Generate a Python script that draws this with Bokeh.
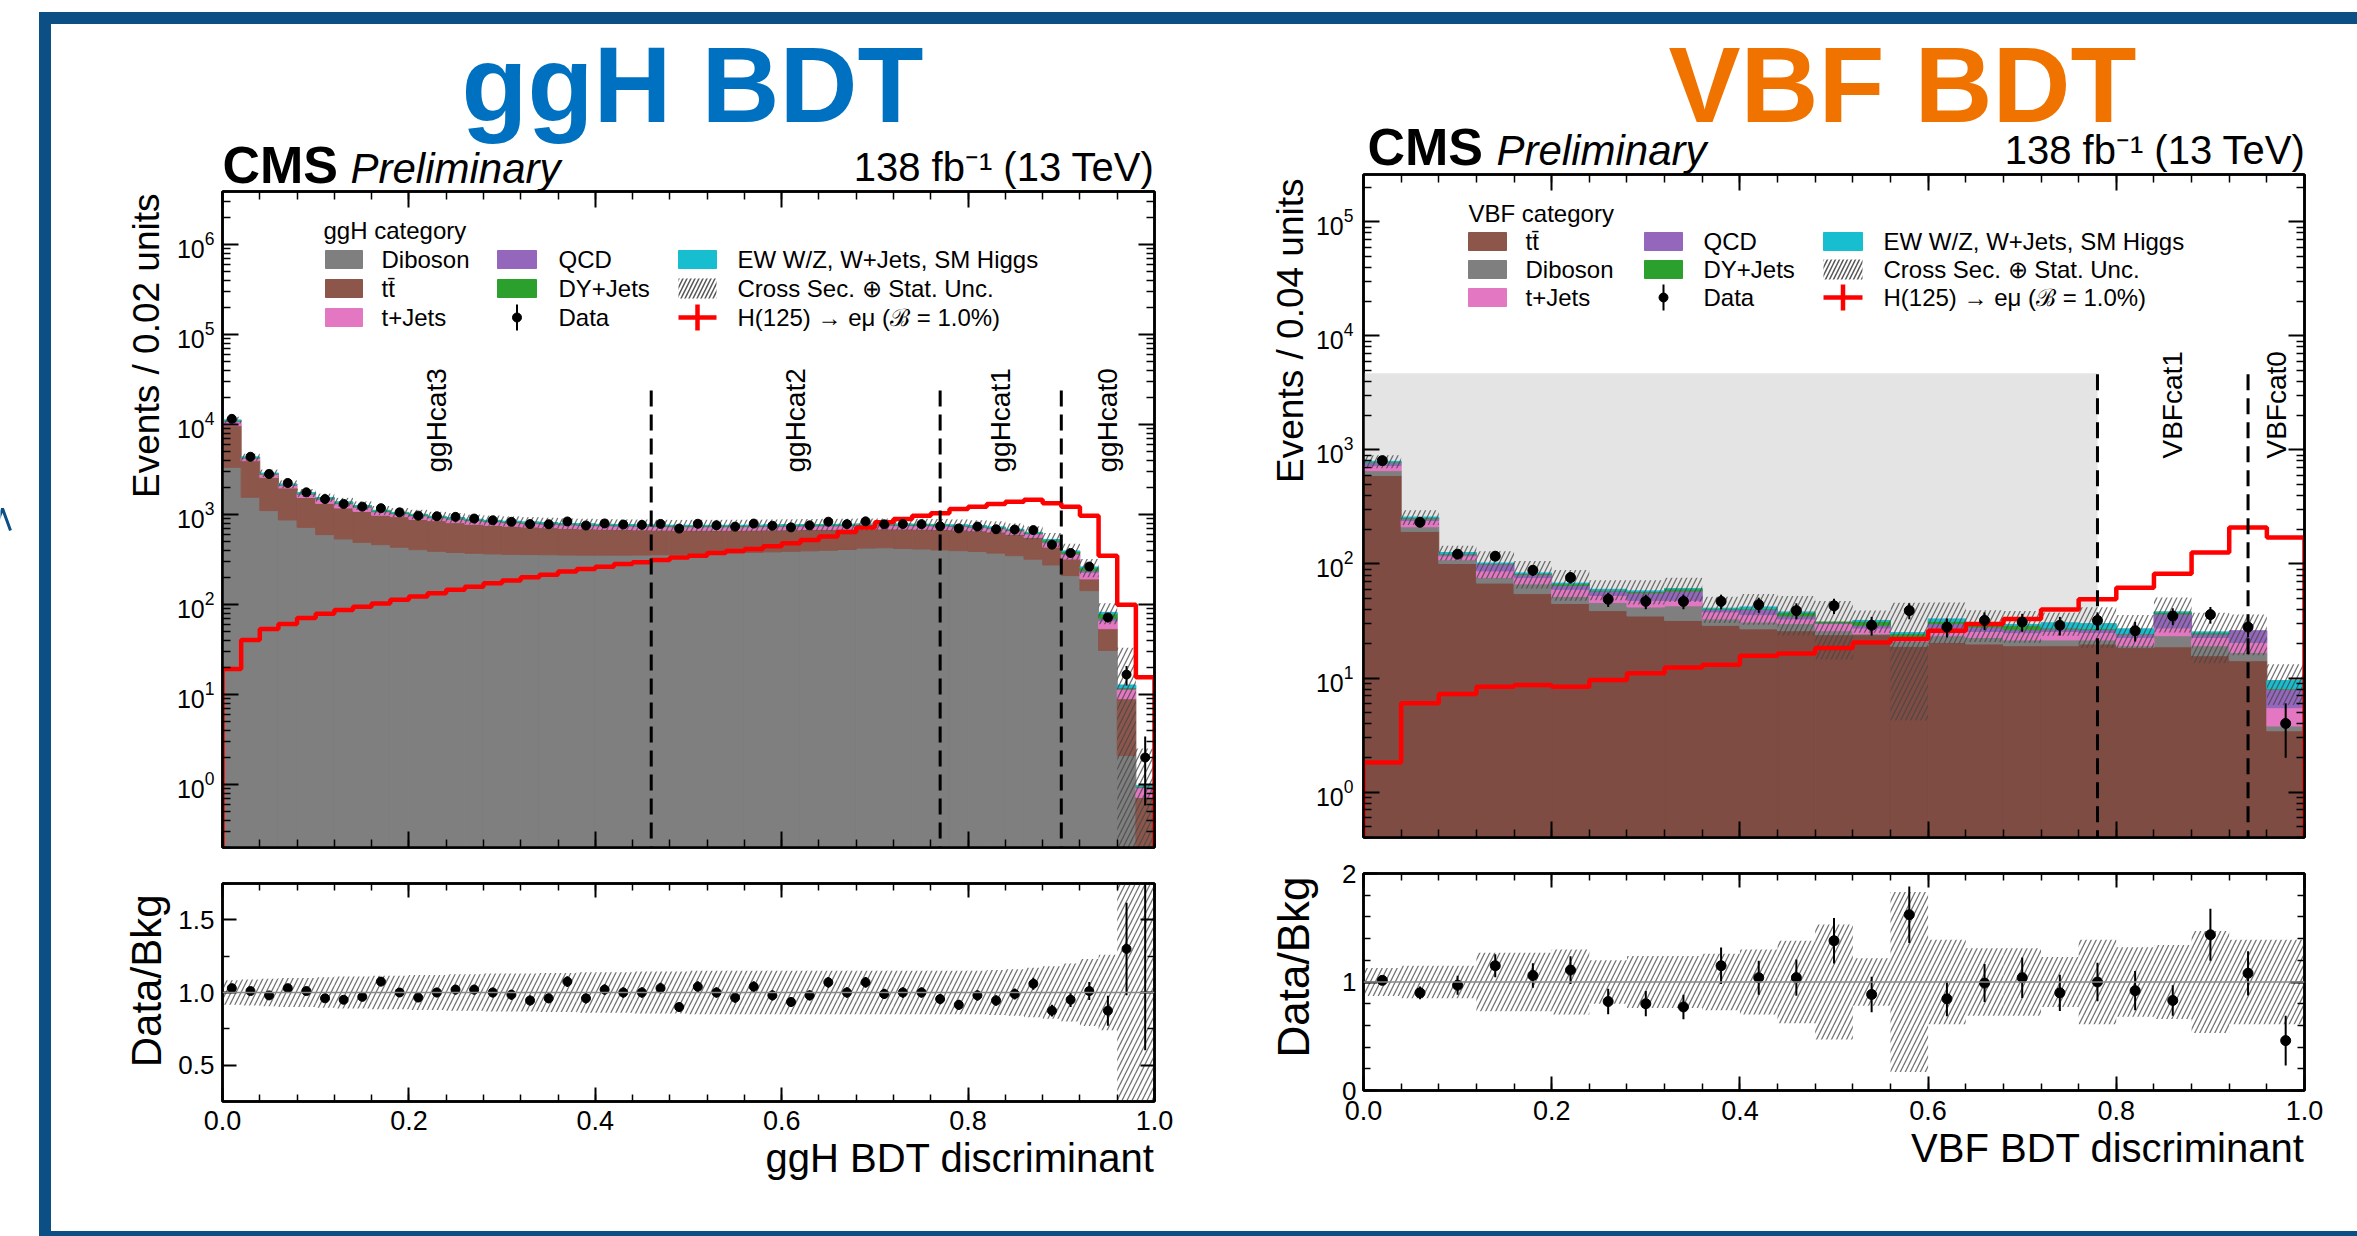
import math
import numpy as np
from bokeh.plotting import figure
from bokeh.models import (Range1d, LogAxis, LinearAxis, FixedTicker, Label, Span, Div, Spacer,
                          PrintfTickFormatter, ColumnDataSource, GridBox)
from bokeh.layouts import row, column
from bokeh.embed import file_html
from bokeh.resources import INLINE

# ---------------------------------------------------------------- data: ggH BDT (50 bins of 0.02)
ggh_edges = np.linspace(0.0, 1.0, 51)
ggh_diboson = [3360, 1560, 1110, 873, 723, 600, 537, 492, 464, 434,
               408, 391, 380, 372, 366, 362, 360, 358, 356, 355,
               355, 355, 356, 358, 362, 366, 370, 375, 381, 386,
               391, 396, 402, 410, 425, 428, 420, 415, 405, 398,
               390, 373, 350, 320, 276, 210, 143, 31, 2.1, 0.0]
ggh_ttbar = [6390, 2420, 1490, 1107, 827, 736, 650, 596, 522, 516,
             479, 467, 435, 411, 395, 382, 370, 359, 348, 340,
             333, 328, 322, 316, 309, 305, 301, 296, 292, 290,
             288, 287, 284, 280, 268, 265, 273, 275, 280, 278,
             272, 268, 257, 239, 160, 111, 50, 23, 6.9, 0.72]
ggh_tjets = [1050, 260, 195, 140, 135, 145, 132, 118, 88, 72,
             80, 66, 72, 69, 67, 66, 65, 64, 62, 62,
             61, 61, 60, 60, 60, 59, 59, 60, 60, 60,
             60, 61, 61, 61, 61, 61, 61, 61, 61, 60,
             59, 57, 54, 50, 50, 40, 36, 12, 2.4, 0.2]
ggh_qcd = [160, 40, 30, 22, 20, 22, 20, 18, 14, 12,
           13, 11, 12, 13, 13, 13, 12, 12, 12, 12,
           12, 12, 12, 11, 11, 11, 11, 11, 11, 12,
           12, 12, 12, 12, 12, 12, 12, 12, 12, 12,
           11, 11, 10, 10, 12, 10, 9, 4, 0.3, 0.02]
ggh_dy = [200, 55, 45, 30, 32, 33, 33, 29, 22, 18,
          21, 17, 18, 16, 16, 15, 15, 15, 14, 14,
          14, 14, 14, 14, 14, 14, 14, 14, 14, 14,
          14, 14, 14, 14, 14, 14, 14, 14, 14, 14,
          14, 13, 12, 11, 24, 18, 18, 9, 0.3, 0.02]
ggh_ew = [100, 25, 20, 13, 13, 14, 13, 12, 10, 8,
          9, 8, 8, 8, 8, 8, 7, 7, 7, 7,
          7, 7, 7, 7, 7, 7, 7, 7, 7, 7,
          7, 7, 7, 7, 7, 7, 7, 7, 7, 7,
          7, 7, 6, 6, 8, 6, 6, 3, 0.8, 0.01]
ggh_data = [11600, 4400, 2830, 2250, 1770, 1490, 1315, 1227, 1180, 1060,
            975, 960, 945, 905, 865, 832, 785, 782, 840, 758,
            798, 776, 770, 789, 700, 792, 762, 736, 796, 753,
            722, 760, 835, 784, 842, 780, 787, 784, 743, 703,
            737, 688, 683, 673, 464, 375, 265, 72, 16.7, 2.0]
ggh_ratio = [1.03, 1.01, 0.98, 1.03, 1.01, 0.96, 0.95, 0.97, 1.075, 1.0,
             0.965, 1.0, 1.02, 1.02, 1.0, 0.985, 0.945, 0.96, 1.075, 0.96,
             1.02, 1.0, 1.0, 1.03, 0.90, 1.04, 1.0, 0.965, 1.04, 0.98,
             0.935, 0.98, 1.07, 1.0, 1.07, 0.99, 1.0, 1.0, 0.955, 0.915,
             0.98, 0.945, 0.99, 1.06, 0.875, 0.95, 1.01, 0.875, 1.30, 2.06]
ggh_unc = [0.085, 0.09, 0.095, 0.10, 0.10, 0.105, 0.11, 0.11, 0.115, 0.115,
           0.12, 0.12, 0.125, 0.125, 0.13, 0.13, 0.13, 0.135, 0.135, 0.14,
           0.14, 0.14, 0.145, 0.145, 0.145, 0.15, 0.15, 0.15, 0.15, 0.15,
           0.15, 0.15, 0.15, 0.15, 0.15, 0.15, 0.15, 0.15, 0.15, 0.15,
           0.15, 0.155, 0.16, 0.17, 0.18, 0.20, 0.23, 0.26, 1.6, 1.6]
ggh_signal = [19.3, 40.5, 53.7, 61, 71, 79, 87, 95, 103, 113,
              123, 134, 146, 158, 173, 185, 201, 215, 233, 249,
              264, 283, 295, 314, 335, 350, 375, 395, 416, 445,
              480, 523, 570, 640, 720, 822, 895, 975, 1035, 1157,
              1227, 1315, 1394, 1468, 1336, 1227, 975, 350, 100, 15.6]
ggh_cat_edges = [0.0, 0.46, 0.77, 0.90, 1.0]
ggh_cat_names = ["ggHcat3", "ggHcat2", "ggHcat1", "ggHcat0"]
ggh_cat_line_top = 2.4e4

# ---------------------------------------------------------------- data: VBF BDT (25 bins of 0.04)
vbf_edges = np.linspace(0.0, 1.0, 26)
vbf_ttbar = [596, 193, 101, 68, 55, 45, 39, 35, 32, 29, 27, 26, 24,
             24, 19, 20.5, 19.9, 19.2, 19.2, 19.9, 18.5, 18.8, 15.7, 14.2, 3.45]
vbf_diboson = [62, 19, 8, 8, 12, 7, 7, 7, 11, 4, 4, 4, 2,
               0.5, 2, 3, 2.8, 2.4, 2.4, 1.7, 0.7, 4.7, 3.5, 2.6, 0.35]
vbf_tjets = [72, 28, 9, 11, 9, 8, 7, 6, 5, 5, 5, 3, 4,
             3, 1.5, 3, 2.9, 3.4, 4, 3.5, 3.5, 4, 3.5, 3.7, 1.7]
vbf_qcd = [46, 10, 4, 13, 5, 5, 5, 8, 10, 2, 4, 2, 0.5,
           1.5, 0.5, 3.5, 2.4, 1.5, 1.4, 1.5, 1.6, 9, 1.6, 5.5, 2.5]
vbf_dy = [10, 5, 2, 1, 1.5, 2, 1, 1.5, 2.5, 0.5, 0.5, 2.5, 0.5,
          2.5, 1.5, 1.5, 1.5, 2.5, 0.5, 0.5, 0.3, 1.2, 0.6, 0.0, 0.1]
vbf_ew = [8, 3, 2, 1, 1, 1, 1, 0.5, 0.5, 0.5, 1.5, 0.5, 0.0,
          0.5, 0.5, 1.5, 0.5, 0.5, 3, 2.9, 2.4, 0.3, 0.5, 0.0, 1.4]
vbf_data = [806, 232, 122, 117, 88, 76, 49, 47, 47, 47, 44, 39, 43,
            29, 39, 28, 32, 31, 29, 32, 26, 35, 36, 28, 4]
vbf_ratio = [1.015, 0.90, 0.97, 1.15, 1.06, 1.11, 0.82, 0.80, 0.77, 1.15, 1.04, 1.04, 1.38,
             0.885, 1.62, 0.845, 0.99, 1.04, 0.90, 1.0, 0.92, 0.83, 1.435, 1.08, 0.46]
vbf_unc = [0.13, 0.15, 0.15, 0.27, 0.27, 0.30, 0.20, 0.24, 0.24, 0.26, 0.30, 0.38, 0.53,
           0.22, 0.83, 0.39, 0.31, 0.31, 0.23, 0.39, 0.32, 0.34, 0.47, 0.39, 0.39]
vbf_signal = [1.82, 6.0, 7.25, 8.4, 8.7, 8.4, 9.6, 11, 12.4, 13.1, 15.7, 16.4, 18.3,
              20.5, 22, 26, 29.8, 32.9, 40, 49, 62, 82, 126, 209, 171]
vbf_cat_edges = [0.78, 0.94, 1.0]
vbf_cat_names = ["VBFcat1", "VBFcat0"]
vbf_blind_top = 4700

# ---------------------------------------------------------------- style
FONT = "Liberation Sans"
BLUE_FRAME = "#0b4f84"
TITLE_BLUE = "#0070c0"
TITLE_ORANGE = "#f07300"
C_DIB, C_TT, C_TJ = "#7f7f7f", "#8c564b", "#e377c2"
C_TT_VBF = "#7e4c42"
C_QCD, C_DY, C_EW = "#9467bd", "#2ca02c", "#17becf"
FLOOR = 1e-3
PAGE_W, PAGE_H = 2357, 1236

# page geometry (outer box of each figure and its frame, in page pixels)
G_GM = dict(ox=51, oy=24, w=1199, h=841, x0=222, x1=1154, y0=191, y1=847, xr=(0, 1), yr=(0.2, 3.9e6), log=True)
G_GR = dict(ox=51, oy=865, w=1199, h=366, x0=222, x1=1154, y0=883, y1=1101, xr=(0, 1), yr=(0.25, 1.75), log=False)
G_VM = dict(ox=1250, oy=24, w=1107, h=831, x0=1363, x1=2304, y0=174, y1=837, xr=(0, 1), yr=(0.4, 2.6e5), log=True)
G_VR = dict(ox=1250, oy=855, w=1107, h=376, x0=1363, x1=2304, y0=873, y1=1090, xr=(0, 1), yr=(0, 2), log=False)


def px2x(g, px):
    a, b = g["xr"]
    return a + (px - g["x0"]) / (g["x1"] - g["x0"]) * (b - a)


def py2y(g, py):
    a, b = g["yr"]
    f = (g["y1"] - py) / (g["y1"] - g["y0"])
    if g["log"]:
        la, lb = math.log10(a), math.log10(b)
        return 10 ** (la + f * (lb - la))
    return a + f * (b - a)


def make_fig(g):
    p = figure(width=g["w"], height=g["h"], x_range=Range1d(*g["xr"]), y_range=Range1d(*g["yr"]),
               y_axis_type="log" if g["log"] else "linear", output_backend="svg", toolbar_location=None,
               min_border_left=g["x0"] - g["ox"], min_border_right=g["ox"] + g["w"] - g["x1"],
               min_border_top=g["y0"] - g["oy"], min_border_bottom=g["oy"] + g["h"] - g["y1"])
    p.xgrid.visible = False
    p.ygrid.visible = False
    p.outline_line_color = "black"
    p.outline_line_width = 2.5
    p.background_fill_color = "white"
    p.border_fill_color = "white"
    return p


def style_axis(ax, ticker, maj, mnr, label_size=None, standoff=8, fmt=None):
    ax.ticker = ticker
    if fmt is not None:
        ax.formatter = fmt
    ax.axis_line_color = "black"
    ax.axis_line_width = 2.5
    ax.major_tick_in = maj
    ax.major_tick_out = 0
    ax.minor_tick_in = mnr
    ax.minor_tick_out = 0
    ax.major_tick_line_color = "black"
    ax.minor_tick_line_color = "black"
    ax.major_tick_line_width = 2
    ax.minor_tick_line_width = 1.5
    ax.major_label_standoff = standoff
    ax.major_label_text_font = FONT
    ax.major_label_text_color = "black"
    if label_size is None:
        ax.major_label_text_font_size = "0px"
        ax.major_label_text_alpha = 0
        ax.major_label_standoff = 0
    else:
        ax.major_label_text_font_size = f"{label_size}px"


def setup_axes(p, g, xt, yt, maj, mnr, xlab, ylab, xfmt=None, yfmt=None, xstand=8, ystand=8):
    style_axis(p.xaxis[0], xt, maj, mnr, xlab, xstand, xfmt)
    style_axis(p.yaxis[0], yt, maj, mnr, ylab, ystand, yfmt)
    top = LinearAxis()
    style_axis(top, xt, maj, mnr, None)
    p.add_layout(top, "above")
    right = LogAxis() if g["log"] else LinearAxis()
    style_axis(right, yt, maj, mnr, None)
    p.add_layout(right, "right")


def lab(p, g, px, py, text, size, align="left", baseline="middle", style="normal", color="black", angle=0.0):
    p.add_layout(Label(x=px2x(g, px), y=py2y(g, py), text=text, text_font=FONT,
                       text_font_size=f"{size}px", text_align=align, text_baseline=baseline,
                       text_font_style=style, text_color=color, angle=angle))


def draw_stack(p, edges, comps, colors):
    left, right = edges[:-1], edges[1:]
    base = np.full(len(left), FLOOR)
    for vals, col in zip(comps, colors):
        vals = np.asarray(vals, dtype=float)
        top = base + vals
        src = ColumnDataSource(dict(l=left, r=right, b=base, t=top,
                                    la=np.where(vals > 0, 1.0, 0.0)))
        p.quad(left="l", right="r", bottom="b", top="t", source=src, fill_color=col,
               line_color=col, line_width=1, line_alpha="la")
        base = top
    return base - FLOOR


def draw_band(p, edges, center, unc, floor):
    c = np.asarray(center, dtype=float)
    u = np.asarray(unc, dtype=float)
    p.quad(left=edges[:-1], right=edges[1:], bottom=np.maximum(c * (1 - u), floor), top=c * (1 + u),
           fill_alpha=0, line_alpha=0, hatch_pattern="right_diagonal_line", hatch_color="#444444",
           hatch_alpha=0.75, hatch_scale=10, hatch_weight=1.3)


def draw_signal(p, edges, sig):
    xs, ys = [edges[0]], [FLOOR]
    for i, s in enumerate(sig):
        xs += [edges[i], edges[i + 1]]
        ys += [s, s]
    xs.append(edges[-1])
    ys.append(FLOOR)
    p.line(xs, ys, line_color="#ff0000", line_width=4.5)


def draw_points(p, edges, vals, errs, size):
    c = 0.5 * (edges[:-1] + edges[1:])
    v = np.asarray(vals, dtype=float)
    e = np.asarray(errs, dtype=float)
    p.segment(x0=c, x1=c, y0=v - e, y1=v + e, line_color="black", line_width=2)
    p.scatter(x=c, y=v, size=size, color="black")


def draw_legend(p, g, title, title_xy, boxes, texts, rows_y, entries):
    lab(p, g, title_xy[0], title_xy[1], title, 24)
    for ci, col in enumerate(entries):
        bx0, bx1 = boxes[ci]
        xc = px2x(g, 0.5 * (bx0 + bx1))
        for ri, (kind, color, text) in enumerate(col):
            yc = rows_y[ri]
            if kind == "fill":
                p.quad(left=[px2x(g, bx0)], right=[px2x(g, bx1)], top=[py2y(g, yc - 9)],
                       bottom=[py2y(g, yc + 9)], fill_color=color, line_color=color)
            elif kind == "hatch":
                p.quad(left=[px2x(g, bx0)], right=[px2x(g, bx1)], top=[py2y(g, yc - 10)],
                       bottom=[py2y(g, yc + 10)], fill_alpha=0, line_alpha=0,
                       hatch_pattern="right_diagonal_line", hatch_color="#555555",
                       hatch_scale=8, hatch_weight=1.5)
            elif kind == "data":
                p.segment(x0=[xc], x1=[xc], y0=[py2y(g, yc + 13)], y1=[py2y(g, yc - 13)],
                          line_color="black", line_width=2)
                p.scatter(x=[xc], y=[py2y(g, yc)], size=9, color="black")
            elif kind == "sig":
                p.segment(x0=[px2x(g, bx0)], x1=[px2x(g, bx1)], y0=[py2y(g, yc)], y1=[py2y(g, yc)],
                          line_color="#ff0000", line_width=4.5)
                p.segment(x0=[xc], x1=[xc], y0=[py2y(g, yc + 13)], y1=[py2y(g, yc - 13)],
                          line_color="#ff0000", line_width=4.5)
            lab(p, g, texts[ci], yc, text, 24)


x_ticker = FixedTicker(ticks=[0.0, 0.2, 0.4, 0.6, 0.8, 1.0],
                       minor_ticks=[round(0.04 * i, 2) for i in range(26)])
xfmt = PrintfTickFormatter(format="%.1f")
TT = "tt\u0304"
SIG = "H(125) \u2192 e\u03bc (\u212c = 1.0%)"
UNC = "Cross Sec. \u2295 Stat. Unc."
EWN = "EW W/Z, W+Jets, SM Higgs"

# ================================================================ ggH main
p1 = make_fig(G_GM)
setup_axes(p1, G_GM, x_ticker,
           FixedTicker(ticks=[10.0 ** e for e in range(0, 7)],
                       minor_ticks=[k * 10.0 ** e for e in range(-1, 7) for k in range(2, 10)]),
           16, 8, None, 25, ystand=8)
ggh_total = draw_stack(p1, ggh_edges, [ggh_diboson, ggh_ttbar, ggh_tjets, ggh_qcd, ggh_dy, ggh_ew],
                       [C_DIB, C_TT, C_TJ, C_QCD, C_DY, C_EW])
draw_band(p1, ggh_edges, ggh_total, ggh_unc, FLOOR)
draw_signal(p1, ggh_edges, ggh_signal)
p1.segment(x0=ggh_cat_edges[1:-1], x1=ggh_cat_edges[1:-1], y0=[FLOOR] * 3, y1=[ggh_cat_line_top] * 3,
           line_color="black", line_width=3, line_dash="16 8")
draw_points(p1, ggh_edges, ggh_data, np.sqrt(ggh_data), 9)
for i, name in enumerate(ggh_cat_names):
    xm = 0.5 * (ggh_cat_edges[i] + ggh_cat_edges[i + 1])
    p1.add_layout(Label(x=xm, y=py2y(G_GM, 472), text=name, text_font=FONT, text_font_size="28px",
                        text_align="left", text_baseline="middle", angle=math.pi / 2, text_color="black"))
draw_legend(p1, G_GM, "ggH category", (323, 230), [(325, 362), (497, 536), (678, 716)],
            [381, 558, 737], [259, 288, 317],
            [[("fill", C_DIB, "Diboson"), ("fill", C_TT, TT), ("fill", C_TJ, "t+Jets")],
             [("fill", C_QCD, "QCD"), ("fill", C_DY, "DY+Jets"), ("data", "black", "Data")],
             [("fill", C_EW, EWN), ("hatch", None, UNC), ("sig", None, SIG)]])

# ================================================================ ggH ratio
p2 = make_fig(G_GR)
setup_axes(p2, G_GR, x_ticker, FixedTicker(ticks=[0.5, 1.0, 1.5], minor_ticks=[0.25, 0.75, 1.25, 1.75]),
           14, 7, 27, 26, xfmt=xfmt, yfmt=PrintfTickFormatter(format="%.1f"), xstand=9, ystand=8)
draw_band(p2, ggh_edges, np.ones(50), ggh_unc, -5)
p2.add_layout(Span(location=1.0, dimension="width", line_color="#888888", line_width=1.5))
draw_points(p2, ggh_edges, ggh_ratio, np.asarray(ggh_ratio) / np.sqrt(ggh_data), 9)

# ================================================================ VBF main
p3 = make_fig(G_VM)
setup_axes(p3, G_VM, x_ticker,
           FixedTicker(ticks=[10.0 ** e for e in range(0, 6)],
                       minor_ticks=[k * 10.0 ** e for e in range(-1, 6) for k in range(2, 10)]),
           16, 8, None, 25, ystand=10)
p3.quad(left=[0.0], right=[vbf_cat_edges[0]], bottom=[FLOOR], top=[vbf_blind_top],
        fill_color="#e4e4e4", line_color=None)
vbf_total = draw_stack(p3, vbf_edges, [vbf_ttbar, vbf_diboson, vbf_tjets, vbf_qcd, vbf_dy, vbf_ew],
                       [C_TT_VBF, C_DIB, C_TJ, C_QCD, C_DY, C_EW])
draw_band(p3, vbf_edges, vbf_total, vbf_unc, FLOOR)
draw_signal(p3, vbf_edges, vbf_signal)
p3.segment(x0=vbf_cat_edges[:-1], x1=vbf_cat_edges[:-1], y0=[FLOOR] * 2, y1=[vbf_blind_top] * 2,
           line_color="black", line_width=3, line_dash="16 8")
draw_points(p3, vbf_edges, vbf_data, np.sqrt(vbf_data), 10)
for i, name in enumerate(vbf_cat_names):
    xm = 0.5 * (vbf_cat_edges[i] + vbf_cat_edges[i + 1])
    p3.add_layout(Label(x=xm, y=py2y(G_VM, 458), text=name, text_font=FONT, text_font_size="28px",
                        text_align="left", text_baseline="middle", angle=math.pi / 2, text_color="black"))
draw_legend(p3, G_VM, "VBF category", (1468, 213), [(1468, 1506), (1644, 1682), (1823, 1862)],
            [1525, 1703, 1883], [241, 269, 297],
            [[("fill", C_TT, TT), ("fill", C_DIB, "Diboson"), ("fill", C_TJ, "t+Jets")],
             [("fill", C_QCD, "QCD"), ("fill", C_DY, "DY+Jets"), ("data", "black", "Data")],
             [("fill", C_EW, EWN), ("hatch", None, UNC), ("sig", None, SIG)]])

# ================================================================ VBF ratio
p4 = make_fig(G_VR)
setup_axes(p4, G_VR, x_ticker, FixedTicker(ticks=[0.0, 1.0, 2.0], minor_ticks=[round(0.2 * i, 1) for i in range(11)]),
           14, 7, 27, 26, xfmt=xfmt, yfmt=PrintfTickFormatter(format="%d"), xstand=10, ystand=7)
draw_band(p4, vbf_edges, np.ones(25), vbf_unc, -5)
p4.add_layout(Span(location=1.0, dimension="width", line_color="#888888", line_width=1.5))
draw_points(p4, vbf_edges, vbf_ratio, np.asarray(vbf_ratio) / np.sqrt(vbf_data), 10)

# ================================================================ text overlay (page pixel coordinates)
ov = figure(width=PAGE_W, height=PAGE_H, x_range=Range1d(0, PAGE_W), y_range=Range1d(PAGE_H, 0),
            output_backend="svg", toolbar_location=None, min_border=0,
            x_axis_location=None, y_axis_location=None)
ov.xgrid.visible = False
ov.ygrid.visible = False
ov.outline_line_color = None
ov.background_fill_color = None
ov.border_fill_color = None

BASELINE_SHIFT = 0.29  # Bokeh's alphabetic anchor sits ~0.29em below the drawn baseline


def olab(px, py, text, size, align="left", baseline="alphabetic", style="normal", color="black", angle=0.0):
    if baseline == "alphabetic":
        py = py - BASELINE_SHIFT * size
    ov.add_layout(Label(x=px, y=py, text=text, text_font=FONT, text_font_size=f"{size}px",
                        text_align=align, text_baseline=baseline, text_font_style=style,
                        text_color=color, angle=angle))


olab(692, 115, "ggH BDT", 108, align="center", style="bold", color=TITLE_BLUE)
olab(1902, 115, "VBF BDT", 108, align="center", style="bold", color=TITLE_ORANGE)
olab(222, 180, "CMS", 52, style="bold")
olab(350, 180, "Preliminary", 42, style="italic")
olab(1154, 178, "138 fb\u207b\u00b9 (13 TeV)", 40, align="right")
olab(1367, 162, "CMS", 52, style="bold")
olab(1496, 162, "Preliminary", 42, style="italic")
olab(2305, 161, "138 fb\u207b\u00b9 (13 TeV)", 40, align="right")
olab(146, 193, "Events / 0.02 units", 37, align="right", baseline="middle", angle=math.pi / 2)
olab(146, 894, "Data/Bkg", 42, align="right", baseline="middle", angle=math.pi / 2)
olab(1154, 1169, "ggH BDT discriminant", 40, align="right")
olab(1290, 178, "Events / 0.04 units", 37, align="right", baseline="middle", angle=math.pi / 2)
olab(1293, 876, "Data/Bkg", 44, align="right", baseline="middle", angle=math.pi / 2)
olab(2304, 1159, "VBF BDT discriminant", 40, align="right")

# partly visible glyph fragment at the very left edge of the slide
ov.line(x=[-6, 2, 10], y=[530, 508, 530], line_color=BLUE_FRAME, line_width=3)

# ================================================================ page with slide frame
def bar(w, h):
    return Div(text="", width=w, height=h, margin=0, styles={"background-color": BLUE_FRAME})

page = column(
    Spacer(width=PAGE_W, height=12, margin=0),
    row(Spacer(width=39, height=12, margin=0), bar(2318, 12), spacing=0),
    row(Spacer(width=39, height=1207, margin=0), bar(12, 1207),
        column(p1, p2, spacing=0), column(p3, p4, spacing=0), spacing=0),
    row(Spacer(width=39, height=5, margin=0), bar(2318, 5), spacing=0),
    spacing=0,
)

root = GridBox(children=[(page, 0, 0), (ov, 0, 0)], width=PAGE_W, height=PAGE_H)

open("out.html", "w").write(file_html(root, INLINE))
